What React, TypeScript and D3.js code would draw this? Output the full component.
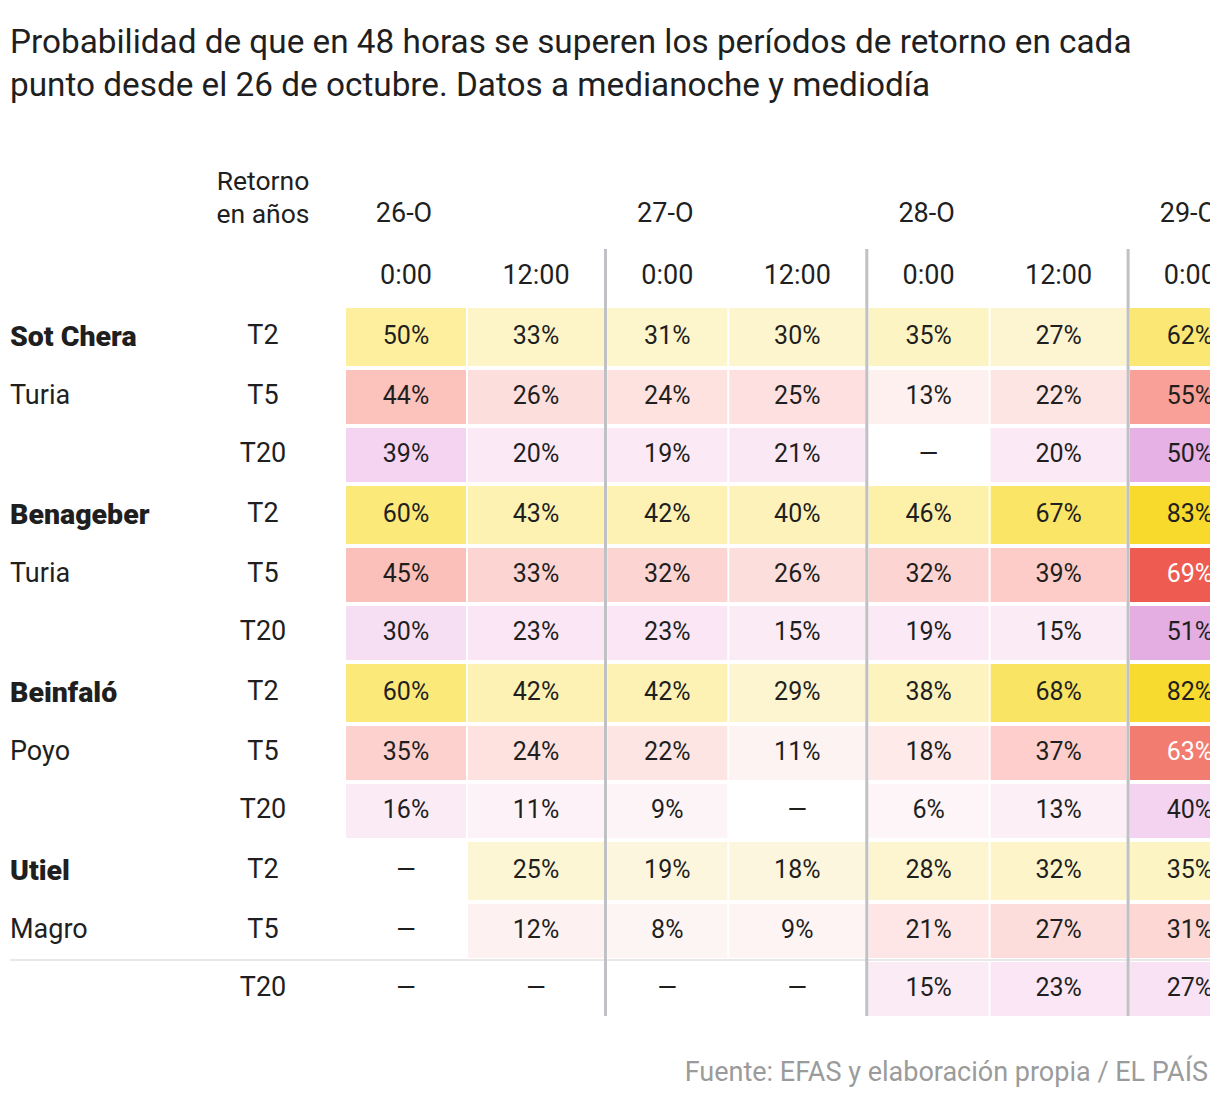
import React from "react";
import * as d3 from "d3";

const titleLines = [
  "Probabilidad de que en 48 horas se superen los períodos de retorno en cada",
  "punto desde el 26 de octubre. Datos a medianoche y mediodía",
];
const source = "Fuente: EFAS y elaboración propia / EL PAÍS";

const days = ["26-O", "27-O", "28-O", "29-O"];
const hours = ["0:00", "12:00"];
const stations = ["Sot Chera", "Benageber", "Beinfaló", "Utiel"];
const rivers = ["Turia", "Turia", "Poyo", "Magro"];
const periods = ["T2", "T5", "T20"];

// values per column: 26-O 0:00, 26-O 12:00, 27-O 0:00, 27-O 12:00, 28-O 0:00, 28-O 12:00, 29-O 0:00
const sotChera = [
  [50, 33, 31, 30, 35, 27, 62],
  [44, 26, 24, 25, 13, 22, 55],
  [39, 20, 19, 21, null, 20, 50],
];
const benageber = [
  [60, 43, 42, 40, 46, 67, 83],
  [45, 33, 32, 26, 32, 39, 69],
  [30, 23, 23, 15, 19, 15, 51],
];
const beinfalo = [
  [60, 42, 42, 29, 38, 68, 82],
  [35, 24, 22, 11, 18, 37, 63],
  [16, 11, 9, null, 6, 13, 40],
];
const utiel = [
  [null, 25, 19, 18, 28, 32, 35],
  [null, 12, 8, 9, 21, 27, 31],
  [null, null, null, null, 15, 23, 27],
];
const stationValues = [sotChera, benageber, beinfalo, utiel];

const columns = days
  .flatMap((d) => hours.map((h) => ({ day: d, hour: h })))
  .slice(0, sotChera[0].length);

const colorT2 = d3
  .scaleLinear<string>()
  .domain([0, 20, 30, 40, 50, 60, 70, 85])
  .range(["#fdf8ea", "#fdf6dd", "#fdf5cd", "#fdf3ba", "#fdef9d", "#fbe97a", "#f9e35e", "#f7d923"])
  .clamp(true);
const colorT5 = d3
  .scaleLinear<string>()
  .domain([0, 10, 20, 30, 40, 50, 60, 70])
  .range(["#fef8f7", "#fdf4f3", "#fde8e7", "#fcd8d6", "#fdcac6", "#fbb5ae", "#f68c81", "#ed564c"])
  .clamp(true);
const colorT20 = d3
  .scaleLinear<string>()
  .domain([0, 10, 15, 20, 30, 40, 50, 60])
  .range(["#fdf6f8", "#fdf4f7", "#fbebf5", "#fbe9f5", "#f7dff3", "#f4d3f1", "#e6b1e4", "#d98ed8"])
  .clamp(true);
const colorScales = [colorT2, colorT5, colorT20];

const FONT = "Roboto, 'Noto Sans', sans-serif";
const TEXT = "#1f1f1f";

export default function App() {
  const W = 1220;
  const H = 1100;
  const clipRight = 1210;

  const xDay = d3.scaleBand<string>().domain(days).range([346, 346 + 261.3 * days.length]);
  const xHour = d3.scaleOrdinal<string, number>().domain(hours).range([0, 122]);
  const wHour = d3.scaleOrdinal<string, number>().domain(hours).range([120, 136]);
  const yGroup = d3.scaleBand<string>().domain(stations).range([308, 308 + 178 * stations.length]);
  const yRow = d3.scaleOrdinal<string, number>().domain(periods).range([0, 62, 120]);
  const hRow = d3.scaleOrdinal<string, number>().domain(periods).range([58, 54, 54]);

  const labelX = 263;
  const tableBottom = (yGroup(stations[stations.length - 1]) as number) + 178 - 4;

  return (
    <svg
      width={W}
      height={H}
      style={{ position: "absolute", left: 0, top: 0, background: "#fff" }}
      fontFamily={FONT}
    >
      <defs>
        <clipPath id="clipT">
          <rect x={0} y={0} width={clipRight} height={H} />
        </clipPath>
      </defs>
      {titleLines.map((t, i) => (
        <text key={i} x={10} y={53 + i * 43} fontSize={33.3} fill={TEXT}>
          {t}
        </text>
      ))}

      <g clipPath="url(#clipT)">
        {/* header */}
        <text x={labelX} y={180} fontSize={26.5} fill={TEXT} textAnchor="middle" dominantBaseline="central">
          Retorno
        </text>
        <text x={labelX} y={213} fontSize={26.5} fill={TEXT} textAnchor="middle" dominantBaseline="central">
          en años
        </text>
        {days.map((d) => (
          <text
            key={d}
            x={(xDay(d) as number) + (wHour("0:00") as number) / 2 - 2}
            y={213}
            fontSize={27}
            fill={TEXT}
            textAnchor="middle"
            dominantBaseline="central"
          >
            {d}
          </text>
        ))}
        {days.map((d) =>
          hours.map((h) => (
            <text
              key={d + h}
              x={(xDay(d) as number) + (xHour(h) as number) + (wHour(h) as number) / 2}
              y={275}
              fontSize={27}
              fill={TEXT}
              textAnchor="middle"
              dominantBaseline="central"
            >
              {h}
            </text>
          ))
        )}

        {/* row rule */}
        <line
          x1={10}
          x2={clipRight}
          y1={(yGroup(stations[3]) as number) + (yRow("T20") as number) - 2}
          y2={(yGroup(stations[3]) as number) + (yRow("T20") as number) - 2}
          stroke="#e8e8e8"
          strokeWidth={2}
        />

        {stations.map((s, si) => {
          const gy = yGroup(s) as number;
          return (
            <g key={s}>
              <text
                x={10}
                y={gy + (hRow("T2") as number) / 2 - 1}
                fontSize={28.5}
                fontWeight={900}
                fill={TEXT}
                dominantBaseline="central"
              >
                {s}
              </text>
              <text
                x={10}
                y={gy + (yRow("T5") as number) + (hRow("T5") as number) / 2 - 2}
                fontSize={27}
                fill={TEXT}
                dominantBaseline="central"
              >
                {rivers[si]}
              </text>
              {periods.map((p, pi) => {
                const ry = gy + (yRow(p) as number);
                const rh = hRow(p) as number;
                const cy = ry + rh / 2 - 2;
                return (
                  <g key={p}>
                    <text x={labelX} y={cy} fontSize={27} fill={TEXT} textAnchor="middle" dominantBaseline="central">
                      {p}
                    </text>
                    {columns.map((c, ci) => {
                      const v = stationValues[si][pi][ci];
                      const cx = (xDay(c.day) as number) + (xHour(c.hour) as number);
                      const cw = wHour(c.hour) as number;
                      const fill = v == null ? "none" : colorScales[pi](v);
                      const light = v != null && pi === 1 && v >= 60;
                      return (
                        <g key={ci}>
                          {v != null && <rect x={cx} y={ry} width={cw} height={rh} fill={fill} />}
                          <text
                            x={cx + cw / 2}
                            y={cy}
                            fontSize={25}
                            fill={light ? "#ffffff" : TEXT}
                            textAnchor="middle"
                            dominantBaseline="central"
                          >
                            {v == null ? "—" : `${v}%`}
                          </text>
                        </g>
                      );
                    })}
                  </g>
                );
              })}
            </g>
          );
        })}

        {/* day separators */}
        {days.slice(1).map((d) => (
          <rect key={d} x={(xDay(d) as number) - 3.3} y={249} width={3} height={tableBottom - 249} fill="#bfc1c4" />
        ))}
      </g>

      <text x={1208} y={1072} fontSize={27} fill="#9b9b9b" textAnchor="end" dominantBaseline="central">
        {source}
      </text>
    </svg>
  );
}
